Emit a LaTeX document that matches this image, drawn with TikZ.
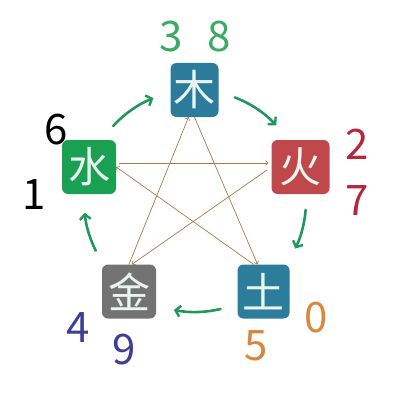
\documentclass[tikz,border=0pt]{standalone}
\usepackage{fontspec}
\setmainfont{Noto Sans CJK SC}
\usetikzlibrary{arrows.meta,calc}
\definecolor{muc}{RGB}{44,123,154}
\definecolor{shuic}{RGB}{26,160,82}
\definecolor{huoc}{RGB}{192,72,74}
\definecolor{jinc}{RGB}{115,115,115}
\definecolor{tuc}{RGB}{43,125,155}
\definecolor{genc}{RGB}{32,152,92}
\definecolor{kec}{RGB}{168,122,72}
\definecolor{dgreen}{RGB}{58,170,100}
\definecolor{dred}{RGB}{182,38,60}
\definecolor{dblue}{RGB}{62,62,150}
\definecolor{dorange}{RGB}{218,135,62}
\definecolor{glyph}{RGB}{232,244,238}
\tikzset{
  elem/.style={rounded corners=6pt, minimum height=54pt, inner sep=0pt,
    text=glyph, font=\fontsize{42}{42}\selectfont},
  num/.style={inner sep=0pt, font=\fontsize{42}{42}\selectfont},
  gen/.style={draw=genc, line width=2.6pt, line cap=round,
    -{Straight Barb[length=5pt,width=11pt,line width=2.4pt]}},
  ke/.style={draw=kec, line width=0.7pt, -{To[length=3pt,width=5pt]}}
}
\begin{document}
\begin{tikzpicture}[x=1pt,y=1pt]
\useasboundingbox (0,0) rectangle (419,405);
\coordinate (C) at (195,204);
% elements
\node[elem, fill=muc, minimum width=48pt] (mu) at (194.5,315) {木};
\node[elem, fill=huoc, minimum width=58pt] (huo) at (300.5,238) {火};
\node[elem, fill=tuc, minimum width=52pt] (tu) at (263.5,113.5) {土};
\node[elem, fill=jinc, minimum width=54pt] (jin) at (129,113.5) {金};
\node[elem, fill=shuic, minimum width=54pt] (shui) at (89,238) {水};
% numbers
\node[num, text=dgreen] (n3) at (171.5,368) {3};
\node[num, text=dgreen] (n8) at (219,368) {8};
\node[num, text=black] (n6) at (56,275) {6};
\node[num, text=black] (n1) at (34,210) {1};
\node[num, text=dred] (n2) at (357,261) {2};
\node[num, text=dred] (n7) at (357,204) {7};
\node[num, text=dorange] (n0) at (316.5,87) {0};
\node[num, text=dorange] (n5) at (256,59) {5};
\node[num, text=dblue] (n4) at (78,77) {4};
\node[num, text=dblue] (n9) at (124,55) {9};
% generating cycle (arcs on circle)
\coordinate (g1) at ($(C)+(137.5:111)$);
\coordinate (g2) at ($(C)+(69:111)$);
\coordinate (g3) at ($(C)+(-4.6:111)$);
\coordinate (g4) at ($(C)+(-76.7:111)$);
\coordinate (g5) at ($(C)+(-153.4:111)$);
\draw[gen] (g1) arc[start angle=137.5, end angle=112, radius=111pt];
\draw[gen] (g2) arc[start angle=69, end angle=43, radius=111pt];
\draw[gen] (g3) arc[start angle=-4.6, end angle=-25.4, radius=111pt];
\draw[gen] (g4) arc[start angle=-76.7, end angle=-101, radius=111pt];
\draw[gen] (g5) arc[start angle=-153.4, end angle=-173.9, radius=111pt];
% controlling star
\draw[ke] (jin.north) -- ([xshift=-6pt]mu.south);
\draw[ke] (mu.south) -- ([xshift=-6pt]tu.north);
\draw[ke, shorten <=3pt, shorten >=3pt] ([yshift=4pt]shui.east) -- ([yshift=4pt]huo.west);
\draw[ke, shorten <=5pt] (huo.west) -- ([xshift=3pt]jin.north);
\draw[ke] ([xshift=-10pt]tu.north) -- (shui.east);
\end{tikzpicture}
\end{document}
